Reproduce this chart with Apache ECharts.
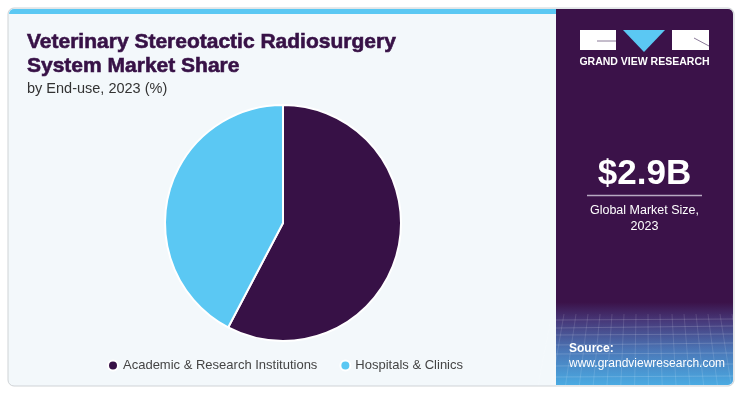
<!DOCTYPE html>
<html>
<head>
<meta charset="utf-8">
<script src="https://cdn.jsdelivr.net/npm/echarts@6/dist/echarts.min.js"></script>
<style>
html,body{margin:0;padding:0;background:#ffffff;}
#chart{width:754px;height:394px;}
</style>
</head>
<body>
<div id="chart"></div>
<script>
var categories = ['Academic & Research Institutions', 'Hospitals & Clinics'];
var shares = [57.7, 42.3];
var colors = ['#371146', '#5bc8f3'];

var chart = echarts.init(document.getElementById('chart'), null, {renderer: 'canvas'});

var mesh = [];
var meshH = [320, 327, 335, 344, 354, 365, 377];
meshH.forEach(function (y, k) {
  mesh.push({type: 'line', shape: {x1: 556, y1: y + (k % 2), x2: 733, y2: y - 1},
    style: {stroke: 'rgba(255,255,255,0.16)', lineWidth: 1}, z: 3});
});
for (var i = 0; i < 16; i++) {
  var x0 = 552 + i * 12;
  mesh.push({type: 'line', shape: {x1: x0, y1: 314, x2: x0 - 14 + i * 1.8, y2: 385},
    style: {stroke: 'rgba(255,255,255,0.12)', lineWidth: 1}, z: 3});
}

var option = {
  animation: false,
  backgroundColor: '#ffffff',
  graphic: [
    {type: 'rect', shape: {x: 8, y: 8, width: 726, height: 378, r: 6},
      style: {fill: '#f3f8fb', stroke: '#cfd3d6', lineWidth: 1}, z: 0},
    {type: 'rect', shape: {x: 9, y: 9, width: 548, height: 5, r: [5, 0, 0, 0]},
      style: {fill: '#5bc8f3'}, z: 1},
    {type: 'rect', shape: {x: 556, y: 9, width: 177, height: 376, r: [0, 5, 5, 0]},
      style: {fill: {type: 'linear', x: 0, y: 0, x2: 0, y2: 1, colorStops: [
        {offset: 0, color: '#3b1249'}, {offset: 0.78, color: '#3b1249'},
        {offset: 0.83, color: '#47397a'}, {offset: 0.91, color: '#4b78b8'}, {offset: 1, color: '#4aaae2'}]}}, z: 2}
  ].concat(mesh).concat([
    {type: 'rect', shape: {x: 580, y: 30, width: 36, height: 20}, style: {fill: '#ffffff'}, z: 5},
    {type: 'polygon', shape: {points: [[623, 30], [665, 30], [644, 52]]}, style: {fill: '#5bc8f3'}, z: 5},
    {type: 'rect', shape: {x: 672, y: 30, width: 37, height: 20}, style: {fill: '#ffffff'}, z: 5},
    {type: 'line', shape: {x1: 597, y1: 41, x2: 616, y2: 41}, style: {stroke: '#8a7a98', lineWidth: 1}, z: 6},
    {type: 'line', shape: {x1: 694, y1: 38, x2: 709, y2: 46}, style: {stroke: '#8a7a98', lineWidth: 1}, z: 6},
    {type: 'text', x: 644.5, y: 57, style: {text: 'GRAND VIEW RESEARCH', fill: '#ffffff',
      font: 'bold 10.5px "Liberation Sans", Arial, sans-serif', textAlign: 'center', textVerticalAlign: 'top'}, z: 6},
    {type: 'text', x: 644.5, y: 157, style: {text: '$2.9B', fill: '#ffffff',
      font: 'bold 35px "Liberation Sans", Arial, sans-serif', textAlign: 'center', textVerticalAlign: 'top'}, z: 6},
    {type: 'line', shape: {x1: 587, y1: 195.5, x2: 702, y2: 195.5}, style: {stroke: '#b7a9c2', lineWidth: 1.5}, z: 6},
    {type: 'text', x: 644.5, y: 203, style: {text: 'Global Market Size,\n2023', fill: '#ffffff',
      font: '12.5px "Liberation Sans", Arial, sans-serif', textAlign: 'center', textVerticalAlign: 'top', lineHeight: 16}, z: 6},
    {type: 'text', x: 569, y: 343, style: {text: 'Source:', fill: '#ffffff',
      font: 'bold 12px "Liberation Sans", Arial, sans-serif', textVerticalAlign: 'top'}, z: 6},
    {type: 'text', x: 569, y: 358, style: {text: 'www.grandviewresearch.com', fill: '#ffffff',
      font: '12px "Liberation Sans", Arial, sans-serif', textVerticalAlign: 'top'}, z: 6},
    {type: 'text', x: 27, y: 30, style: {text: 'Veterinary Stereotactic Radiosurgery\nSystem Market Share', fill: '#371146',
      font: 'bold 21px "Liberation Sans", Arial, sans-serif', textVerticalAlign: 'top', lineHeight: 24,
      stroke: '#371146', lineWidth: 0.6}, z: 6},
    {type: 'text', x: 27, y: 81, style: {text: 'by End-use, 2023 (%)', fill: '#333333',
      font: '14.5px "Liberation Sans", Arial, sans-serif', textVerticalAlign: 'top'}, z: 6}
  ]),
  legend: {
    data: categories,
    left: 102, top: 354,
    icon: 'circle',
    itemWidth: 10, itemHeight: 10,
    itemGap: 22,
    textStyle: {color: '#444444', fontSize: 13, fontFamily: '"Liberation Sans", Arial, sans-serif'}
  },
  series: [{
    type: 'pie',
    center: [283, 223],
    radius: ['0%', 118],
    startAngle: 90,
    clockwise: true,
    label: {show: false},
    labelLine: {show: false},
    itemStyle: {borderColor: '#ffffff', borderWidth: 2},
    emphasis: {disabled: true},
    data: categories.map(function (c, i) {
      return {name: c, value: shares[i], itemStyle: {color: colors[i]}};
    })
  }]
};
chart.setOption(option);
</script>
</body>
</html>
